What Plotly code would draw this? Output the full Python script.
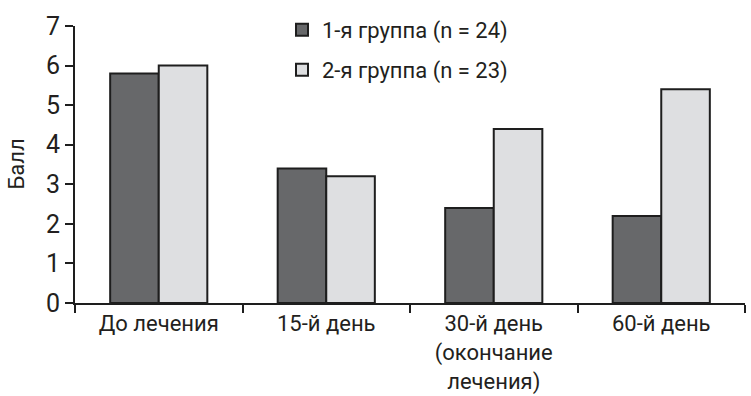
import plotly.graph_objects as go

categories = ["До лечения", "15-й день", "30-й день<br>(окончание<br>лечения)", "60-й день"]
group1_name = "1-я группа (n = 24)"
group2_name = "2-я группа (n = 23)"
group1_values = [5.8, 3.4, 2.4, 2.2]
group2_values = [6.0, 3.2, 4.4, 5.4]
y_ticks = [0, 1, 2, 3, 4, 5, 6, 7]
y_title = "Балл"

FONT = "Roboto, sans-serif"
TXT = "#231f20"

fig = go.Figure()
fig.add_trace(go.Bar(x=categories, y=group1_values, name=group1_name, legend="legend",
                     marker=dict(color="#67686a", line=dict(color="#1e1e1e", width=2))))
fig.add_trace(go.Bar(x=categories, y=group2_values, name=group2_name, legend="legend2",
                     marker=dict(color="#dedfe1", line=dict(color="#1e1e1e", width=2))))

leg_common = dict(xref="container", yref="container", xanchor="left", yanchor="middle",
                  bgcolor="rgba(0,0,0,0)", font=dict(size=22, family=FONT, color=TXT),
                  itemwidth=30)

fig.update_layout(
    width=751, height=396,
    margin=dict(l=75, r=6, t=26, b=93, autoexpand=False),
    paper_bgcolor="white", plot_bgcolor="white",
    font=dict(family=FONT, size=22, color=TXT),
    barmode="group", bargap=0.42, bargroupgap=0,
    showlegend=True,
    legend=dict(x=282 / 751, y=1 - 30 / 396, **leg_common),
    legend2=dict(x=282 / 751, y=1 - 70 / 396, **leg_common),
    xaxis=dict(type="category", range=[-0.5, 3.5], tickson="boundaries",
               ticks="outside", ticklen=8, tickwidth=2, tickcolor="#1e1e1e",
               showline=True, linecolor="#1e1e1e", linewidth=2,
               showgrid=False, zeroline=False, tickfont=dict(size=22),
               automargin=False),
    yaxis=dict(range=[0, 7], tickvals=y_ticks, ticks="outside", ticklen=8,
               tickwidth=2, tickcolor="#1e1e1e", showline=True, linecolor="#1e1e1e",
               linewidth=2, showgrid=False, zeroline=False,
               tickfont=dict(size=25), automargin=False),
    annotations=[dict(text=y_title, textangle=-90, xref="paper", yref="paper",
                      x=(16 - 75) / 670, y=0.5, xanchor="center", yanchor="middle",
                      showarrow=False, font=dict(size=22, family=FONT, color=TXT))],
)

fig.write_html("out.html", config={"displayModeBar": False},
               post_script="document.body.style.margin='0';document.body.style.padding='0';")
